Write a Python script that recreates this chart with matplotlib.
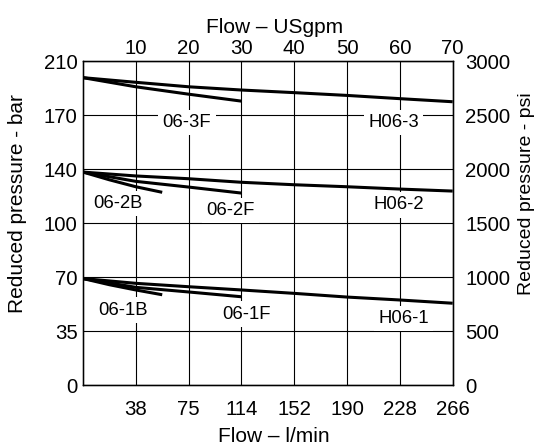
import matplotlib
matplotlib.use("Agg")
import matplotlib.pyplot as plt

plt.rcParams['font.family'] = ['Liberation Sans', 'DejaVu Sans']

# flow in USgpm, pressure in bar
h063_x = [0, 10, 20, 30, 40, 50, 60, 70]
h063_y = [199.2, 196.2, 193.3, 191.2, 189.5, 187.7, 185.6, 183.6]
f063_x = [0, 10, 20, 30]
f063_y = [199.2, 193.3, 188.5, 184.0]

h062_x = [0, 10, 20, 30, 40, 50, 60, 70]
h062_y = [138.0, 135.5, 133.7, 131.4, 129.8, 128.5, 127.0, 125.7]
f062_x = [0, 10, 20, 30]
f062_y = [138.0, 132.0, 128.3, 124.4]
b062_x = [0, 5, 10, 15]
b062_y = [138.0, 133.0, 128.5, 124.9]

h061_x = [0, 10, 20, 30, 40, 50, 60, 70]
h061_y = [69.0, 65.9, 63.7, 61.6, 59.4, 57.0, 55.1, 53.0]
f061_x = [0, 10, 20, 30]
f061_y = [69.0, 63.3, 60.3, 57.2]
b061_x = [0, 5, 10, 15]
b061_y = [69.0, 65.0, 61.6, 58.5]

curves = [(h063_x, h063_y), (f063_x, f063_y), (h062_x, h062_y), (f062_x, f062_y),
          (b062_x, b062_y), (h061_x, h061_y), (f061_x, f061_y), (b061_x, b061_y)]

labels = ['06-3F', 'H06-3', '06-2B', '06-2F', 'H06-2', '06-1B', '06-1F', 'H06-1']
label_x = [19.7, 58.8, 6.6, 27.9, 59.8, 7.6, 30.9, 60.7]
label_y = [170, 170, 117.5, 113, 116.7, 48.6, 46, 43.2]

gpm_ticks = [10, 20, 30, 40, 50, 60, 70]
lmin_labels = ['38', '75', '114', '152', '190', '228', '266']
bar_ticks = [0, 35, 70, 105, 140, 175, 210]
bar_labels = ['0', '35', '70', '100', '140', '170', '210']
psi_ticks = [0, 500, 1000, 1500, 2000, 2500, 3000]

fs = 14.7

fig = plt.figure(figsize=(5.4, 4.47), dpi=100)
ax = fig.add_axes([0.1537, 0.1387, 0.6846, 0.7248])

ax.set_xlim(0, 70)
ax.set_ylim(0, 210)
ax.set_xticks(gpm_ticks)
ax.set_xticklabels(lmin_labels)
ax.set_yticks(bar_ticks)
ax.set_yticklabels(bar_labels)
ax.grid(True, color='black', lw=0.8)
ax.set_axisbelow(True)
ax.tick_params(axis='y', length=0, labelsize=fs, pad=4)
ax.tick_params(axis='x', length=0, labelsize=fs, pad=11)
for s in ax.spines.values():
    s.set_linewidth(1.0)

for x, y in curves:
    ax.plot(x, y, color='black', lw=2.2, solid_capstyle='butt')

for t, x, y in zip(labels, label_x, label_y):
    ax.text(x, y, t, fontsize=13.3, ha='center', va='center',
            bbox=dict(facecolor='white', edgecolor='none', pad=3))

ax.set_xlabel('Flow – l/min', fontsize=15)
ax.xaxis.set_label_coords(0.516, -0.13)
ax.set_ylabel('Reduced pressure - bar', fontsize=15)
ax.yaxis.set_label_coords(-0.152, 0.56)

top = ax.twiny()
top.set_xlim(0, 70)
top.set_xticks(gpm_ticks)
top.set_xticklabels([str(v) for v in gpm_ticks])
top.tick_params(length=0, labelsize=fs, pad=2)
top.set_xlabel('Flow – USgpm', fontsize=15)
top.xaxis.set_label_coords(0.519, 1.085)

right = ax.twinx()
right.set_ylim(0, 3000)
right.set_yticks(psi_ticks)
right.tick_params(length=0, labelsize=fs, pad=9)
right.set_ylabel('Reduced pressure - psi', fontsize=14)
right.yaxis.set_label_coords(1.177, 0.59)

fig.savefig('out.png', dpi=100)
